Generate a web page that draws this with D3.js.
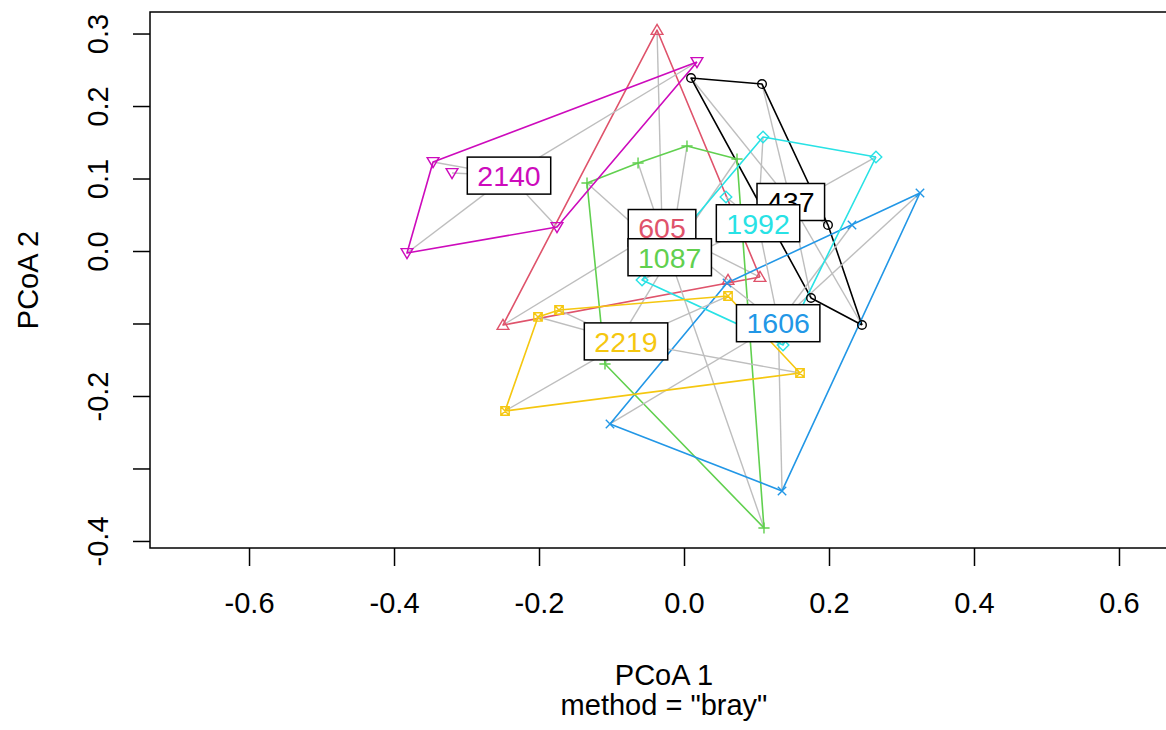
<!DOCTYPE html>
<html>
<head>
<meta charset="utf-8">
<script src="https://cdn.jsdelivr.net/npm/d3@7"></script>
<style>
  html, body { margin: 0; padding: 0; background: #ffffff; }
  svg { display: block; font-family: "Liberation Sans", Arial, sans-serif; }
</style>
</head>
<body>
<svg id="chart" width="1166" height="730"></svg>
<script>
// Groups, colours and plotting symbols (R pch 1..7)
const groups = ["437", "605", "1087", "1606", "1992", "2140", "2219"];
const groupColors = ["#000000", "#DF536B", "#61D04F", "#2297E6", "#28E2E5", "#CD0BBC", "#F5C710"];
const groupPch = [1, 2, 3, 4, 5, 6, 7];

// Site scores on PCoA 1 / PCoA 2, one pair of arrays per group
const pc1_437 = [0.0097, 0.1076, 0.1986, 0.1752, 0.2455];
const pc2_437 = [0.2386, 0.2303, 0.0359, -0.0648, -0.1021];
const pc1_605 = [-0.0372, 0.1048, 0.0607, -0.2497];
const pc2_605 = [0.3048, -0.0359, -0.0400, -0.1021];
const pc1_1087 = [-0.1338, -0.0634, 0.0041, 0.0731, -0.1090, 0.1103];
const pc2_1087 = [0.0938, 0.1214, 0.1448, 0.1269, -0.1559, -0.3821];
const pc1_1606 = [0.3255, 0.2317, 0.0593, -0.1021, 0.1352];
const pc2_1606 = [0.0800, 0.0359, -0.0441, -0.2386, -0.3310];
const pc1_1992 = [0.1090, 0.2648, 0.0579, -0.0579, 0.1366];
const pc2_1992 = [0.1572, 0.1297, 0.0745, -0.0400, -0.1297];
const pc1_2140 = [-0.3462, -0.3200, -0.3821, -0.1752, 0.0179];
const pc2_2140 = [0.1228, 0.1076, -0.0028, 0.0331, 0.2607];
const pc1_2219 = [-0.2014, -0.1724, 0.0607, 0.1600, -0.2469];
const pc2_2219 = [-0.0910, -0.0814, -0.0621, -0.1683, -0.2207];

// Group centroids
const centroidPC1 = [0.1473, -0.0303, -0.0197, 0.1299, 0.1021, -0.2414, -0.0800];
const centroidPC2 = [0.0676, 0.0317, -0.0086, -0.0996, 0.0383, 0.1040, -0.1247];

// Axis ticks and the labels that are printed
const xTicks = [-0.6, -0.4, -0.2, 0.0, 0.2, 0.4, 0.6];
const xTickLabels = ["-0.6", "-0.4", "-0.2", "0.0", "0.2", "0.4", "0.6"];
const yTicks = [-0.4, -0.3, -0.2, -0.1, 0.0, 0.1, 0.2, 0.3];
const yTickLabels = ["-0.4", "", "-0.2", "", "0.0", "0.1", "0.2", "0.3"];

const xTitle = "PCoA 1";
const yTitle = "PCoA 2";
const subTitle = 'method = "bray"';

const siteX = [pc1_437, pc1_605, pc1_1087, pc1_1606, pc1_1992, pc1_2140, pc1_2219];
const siteY = [pc2_437, pc2_605, pc2_1087, pc2_1606, pc2_1992, pc2_2140, pc2_2219];

const svg = d3.select("#chart");
const plotLeft = 150, plotRight = 1178, plotTop = 12, plotBottom = 548;

// Equal-aspect scales (same pixels per unit on both axes)
const x = d3.scaleLinear().domain([-0.7366, 0.6814]).range([plotLeft, plotRight]);
const y = d3.scaleLinear().domain([-0.4097, 0.3297]).range([plotBottom, plotTop]);

const plot = svg.append("g");

// Per group: spider segments to the centroid, then the convex hull
groups.forEach((g, i) => {
  const cx = x(centroidPC1[i]), cy = y(centroidPC2[i]);
  const pts = siteX[i].map((v, k) => [x(v), y(siteY[i][k])]);
  plot.append("g").selectAll("line").data(pts).join("line")
    .attr("x1", cx).attr("y1", cy)
    .attr("x2", d => d[0]).attr("y2", d => d[1])
    .attr("stroke", "#BEBEBE").attr("stroke-width", 1.4);
  const hull = d3.polygonHull(pts);
  plot.append("path")
    .attr("d", d3.line()(hull.concat([hull[0]])))
    .attr("fill", "none").attr("stroke", groupColors[i]).attr("stroke-width", 1.6)
    .attr("stroke-linejoin", "round");
});

// Plotting symbols (open shapes)
function symbolPath(pch) {
  switch (pch) {
    case 2: { const h = 5.6; return `M0,${-h}L${h * 1.05},${h * 0.78}L${-h * 1.05},${h * 0.78}Z`; }
    case 3: { const a = 5.6; return `M${-a},0L${a},0M0,${-a}L0,${a}`; }
    case 4: { const a = 4.2; return `M${-a},${-a}L${a},${a}M${-a},${a}L${a},${-a}`; }
    case 5: { const a = 5.8; return `M0,${-a}L${a},0L0,${a}L${-a},0Z`; }
    case 6: { const h = 5.6; return `M0,${h}L${h * 1.05},${-h * 0.78}L${-h * 1.05},${-h * 0.78}Z`; }
    case 7: { const a = 4.2; return `M${-a},${-a}L${a},${-a}L${a},${a}L${-a},${a}ZM${-a},${-a}L${a},${a}M${-a},${a}L${a},${-a}`; }
  }
  return "";
}

const sym = svg.append("g");
groups.forEach((g, i) => {
  const pts = siteX[i].map((v, k) => [x(v), y(siteY[i][k])]);
  pts.forEach(p => {
    if (groupPch[i] === 1) {
      sym.append("circle").attr("cx", p[0]).attr("cy", p[1]).attr("r", 4.3)
        .attr("fill", "none").attr("stroke", groupColors[i]).attr("stroke-width", 1.4);
    } else {
      sym.append("path").attr("transform", `translate(${p[0]},${p[1]})`)
        .attr("d", symbolPath(groupPch[i]))
        .attr("fill", "none").attr("stroke", groupColors[i]).attr("stroke-width", 1.4);
    }
  });
});

// Boxed centroid labels, outer ones first so central ones sit on top
const labFont = 28.5;
const order = d3.range(groups.length).sort((a, b) =>
  Math.hypot(centroidPC1[b], centroidPC2[b]) - Math.hypot(centroidPC1[a], centroidPC2[a]));
const labG = svg.append("g");
order.forEach(i => {
  const cx = x(centroidPC1[i]), cy = y(centroidPC2[i]);
  const g = labG.append("g").attr("transform", `translate(${cx},${cy})`);
  const rect = g.append("rect");
  const t = g.append("text").text(groups[i])
    .attr("text-anchor", "middle").attr("dy", "0.36em")
    .attr("font-size", labFont).attr("fill", groupColors[i]);
  const w = t.node().getComputedTextLength() + 20;
  const h = 37;
  rect.attr("x", -w / 2).attr("y", -h / 2).attr("width", w).attr("height", h)
    .attr("fill", "#ffffff").attr("stroke", "#000000").attr("stroke-width", 1.5);
});

// Axes
const xAxis = svg.append("g").attr("transform", `translate(0,${plotBottom})`)
  .call(d3.axisBottom(x).tickValues(xTicks).tickSize(18).tickSizeOuter(0)
    .tickFormat((d, k) => xTickLabels[k]));
xAxis.select(".domain").remove();
xAxis.selectAll(".tick line").attr("stroke", "#000").attr("stroke-width", 1.5);
xAxis.selectAll(".tick text").attr("y", 65).attr("dy", 0)
  .attr("font-size", 29).attr("fill", "#000").style("font-family", "Liberation Sans, Arial, sans-serif");

const yAxis = svg.append("g").attr("transform", `translate(${plotLeft},0)`)
  .call(d3.axisLeft(y).tickValues(yTicks).tickSize(17).tickSizeOuter(0)
    .tickFormat((d, k) => yTickLabels[k]));
yAxis.select(".domain").remove();
yAxis.selectAll(".tick line").attr("stroke", "#000").attr("stroke-width", 1.5);
yAxis.selectAll(".tick text").attr("x", 0).attr("y", -42).attr("dy", 0)
  .attr("transform", "rotate(-90)").attr("text-anchor", "middle")
  .attr("font-size", 29).attr("fill", "#000").style("font-family", "Liberation Sans, Arial, sans-serif");

// Plot frame
svg.append("rect").attr("x", plotLeft).attr("y", plotTop)
  .attr("width", plotRight - plotLeft).attr("height", plotBottom - plotTop)
  .attr("fill", "none").attr("stroke", "#000").attr("stroke-width", 1.5);

// Titles
const midX = (plotLeft + plotRight) / 2;
svg.append("text").attr("x", midX).attr("y", 685).attr("text-anchor", "middle")
  .attr("font-size", 29).text(xTitle);
svg.append("text").attr("x", midX).attr("y", 715).attr("text-anchor", "middle")
  .attr("font-size", 29).text(subTitle);
svg.append("text").attr("transform", `translate(38,${(plotTop + plotBottom) / 2}) rotate(-90)`)
  .attr("text-anchor", "middle").attr("font-size", 29).text(yTitle);
</script>
</body>
</html>
